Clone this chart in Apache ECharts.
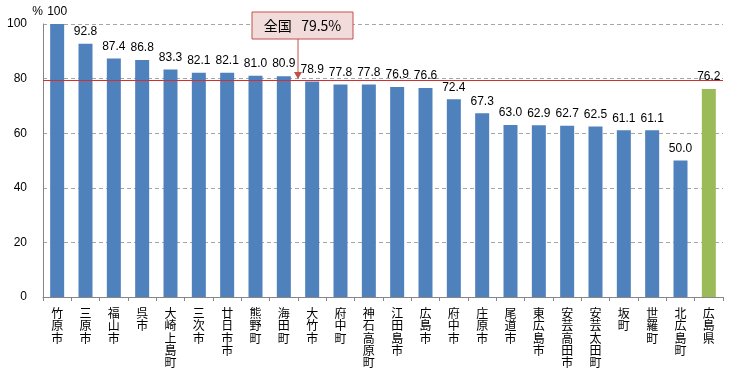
<!DOCTYPE html>
<html><head><meta charset="utf-8">
<script src="https://cdn.jsdelivr.net/npm/echarts@6/dist/echarts.min.js"></script>
<style>html,body{margin:0;padding:0;background:#fff}#c{width:756px;height:379px}</style>
</head><body><div id="c"></div>
<script>
const categories = ['竹原市','三原市','福山市','呉市','大崎上島町','三次市','廿日市市','熊野町','海田町','大竹市','府中町','神石高原町','江田島市','広島市','府中市','庄原市','尾道市','東広島市','安芸高田市','安芸太田町','坂町','世羅町','北広島町','広島県'];
const values = [100,92.8,87.4,86.8,83.3,82.1,82.1,81.0,80.9,78.9,77.8,77.8,76.9,76.6,72.4,67.3,63.0,62.9,62.7,62.5,61.1,61.1,50.0,76.2];
const nationalValue = 79.5;
const nationalLabel = '全国';
const yTicks = [0,20,40,60,80,100];

const chart = echarts.init(document.getElementById('c'));
const option = {
  animation:false,
  grid:{left:43,right:33,top:24,bottom:82},
  xAxis:{type:'category',data:categories,
    axisLine:{lineStyle:{color:'#868686'}},
    axisTick:{show:true,interval:0,length:4,lineStyle:{color:'#868686'}},
    axisLabel:{interval:0,margin:10,color:'#000',fontSize:12,lineHeight:12.4,
      fontFamily:'Noto Sans CJK JP',verticalAlign:'top',
      formatter:v=>v.split('').join('\n')}},
  yAxis:{type:'value',min:0,max:100,interval:20,
    name:'%',nameLocation:'end',nameGap:5,nameTextStyle:{color:'#000',fontSize:12,align:'right',fontFamily:'Liberation Sans'},
    axisLine:{show:true,lineStyle:{color:'#868686'}},
    axisTick:{show:false},
    axisLabel:{color:'#000',fontSize:12,margin:16,fontFamily:'Liberation Sans'},
    splitLine:{lineStyle:{color:'#A6A6A6',type:[4,3]}}},
  series:[{type:'bar',barWidth:14,
    data:values.map((v,i)=>({value:v,itemStyle:{color:i===values.length-1?'#9BBB59':'#4F81BD'}})),
    label:{show:true,position:'top',color:'#000',fontSize:12,fontFamily:'Liberation Sans',distance:6,
      formatter:p=>p.value===100?'100':p.value.toFixed(1)},
    markLine:{silent:true,symbol:'none',label:{show:false},
      lineStyle:{color:'#D03030',width:1.2,type:'solid'},
      data:[{yAxis:nationalValue}]}}]
};
chart.setOption(option);
const p8 = chart.convertToPixel({xAxisIndex:0,yAxisIndex:0},[8,nationalValue]);
const p9 = chart.convertToPixel({xAxisIndex:0,yAxisIndex:0},[9,nationalValue]);
const xb = (p8[0]+p9[0])/2;
const yl = p8[1];
const boxW=101, boxH=27, boxTop=12;
chart.setOption({graphic:[
  {type:'rect',shape:{x:xb-46,y:boxTop,width:boxW,height:boxH},style:{fill:'#F2DCDB',stroke:'#C0504D',lineWidth:1},z:10},
  {type:'text',style:{x:xb-46+boxW/2,y:boxTop+boxH/2,text:nationalLabel+'   '+nationalValue.toFixed(1)+'%',fill:'#000',font:'14px "Noto Sans CJK JP"',align:'center',verticalAlign:'middle'},z:11},
  {type:'line',shape:{x1:xb,y1:boxTop+boxH,x2:xb,y2:yl-2},style:{stroke:'#C0504D',lineWidth:1},z:10},
  {type:'polygon',shape:{points:[[xb-4,yl-8],[xb+4,yl-8],[xb,yl-1]]},style:{fill:'#C0504D'},z:10}
]});
</script></body></html>
